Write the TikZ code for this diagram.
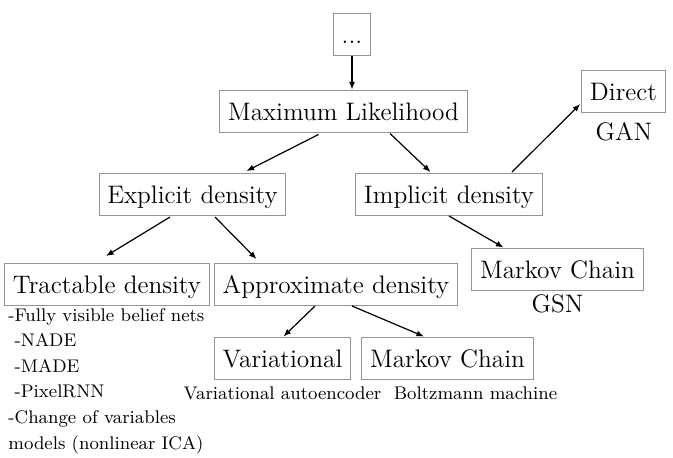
\documentclass[tikz,border=0pt]{standalone}
\usepackage{xcolor}
\usepackage{tikz}
\usetikzlibrary{arrows.meta, calc, positioning}
\tikzset{
	box/.style={draw=black!42, line width=0.5pt, rectangle, inner xsep=4.1pt, inner ysep=4pt,
		text height=11pt, text depth=2pt, font=\fontsize{12.65}{15}\selectfont},
	arr/.style={line width=0.6pt, -{Latex[length=3.8pt,width=3pt]}}
}

\begin{document}
\begin{tikzpicture}[
	x=0.5pt, y=-0.5pt,
	lbl/.style={inner sep=0pt, anchor=base, font=\fontsize{12.65}{15}\selectfont},
	small/.style={inner sep=0pt, anchor=base west, font=\fontsize{9.15}{12}\selectfont}]
	\useasboundingbox (0,0) rectangle (673,457);
	% boxes
	\node[box] (dots) at (352,34) {...};
	\node[box] (ml) at (343.5,111) {Maximum Likelihood};
	\node[box] (exp) at (192.5,194.5) {Explicit density};
	\node[box] (imp) at (449,194.5) {Implicit density};
	\node[box] (direct) at (623.5,91) {Direct};
	\node[box] (mcg) at (557.5,269) {Markov Chain};
	\node[box] (trac) at (107,284.5) {Tractable density};
	\node[box] (appr) at (336,284.5) {Approximate density};
	\node[box] (var) at (282.5,358) {Variational};
	\node[box] (mcb) at (447.5,358) {Markov Chain};
	% labels
	\node[lbl] (gan) at (624,140) {GAN};
	\node[lbl] (gsn) at (557.5,312) {GSN};
	\node[small, anchor=base] (vae) at (282.5,399) {Variational autoencoder};
	\node[small, anchor=base] (boltz) at (475.5,399) {Boltzmann machine};
	\foreach \t [count=\i] in {-Fully visible belief nets, \ -NADE, \ -MADE, \ -PixelRNN,
		-Change of variables, models (nonlinear ICA)}
		\node[small] (item\i) at (8,{321+25.6*(\i-1)}) {\t};
	% arrows
	\draw[arr] (dots.south) -- (dots.south |- ml.north);
	\draw[arr] ($(ml.south)+(-25,2)$) -- ($(exp.north)+(54,-2)$);
	\draw[arr] ($(ml.south)+(46.5,1)$) -- ($(imp.north)+(-18.5,-1)$);
	\draw[arr] ($(imp.north)+(63,-1)$) -- ($(direct.west)+(-1,13)$);
	\draw[arr] (imp.south) -- ($(mcg.north)+(-54,0)$);
	\draw[arr] ($(exp.south)+(-22.5,1)$) -- ($(trac.north)+(-1,-7)$);
	\draw[arr] ($(exp.south)+(22.5,1)$) -- ($(appr.north)+(-79.5,-4)$);
	\draw[arr] ($(appr.south)+(-21,0)$) -- ($(var.north)+(1,0)$);
	\draw[arr] ($(appr.south)+(16,0)$) -- ($(mcb.north)+(-23.5,0)$);
\end{tikzpicture}
\end{document}
